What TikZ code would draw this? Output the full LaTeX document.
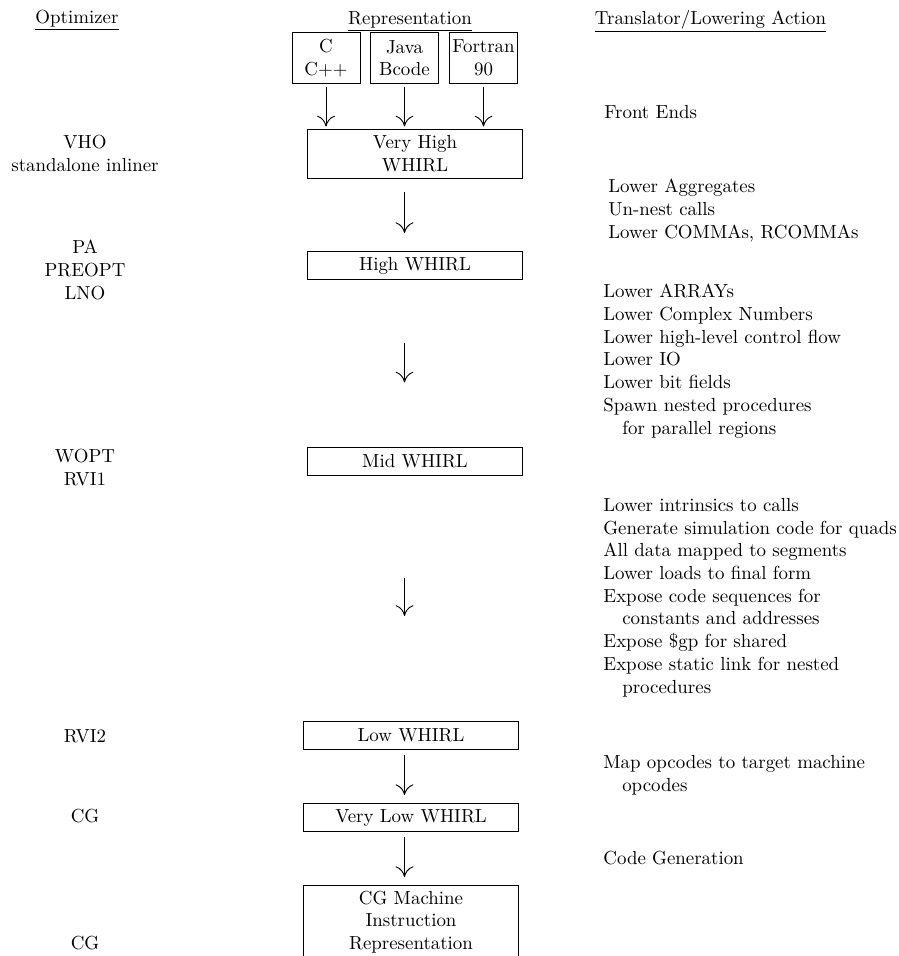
\documentclass[tikz,border=0pt]{standalone}
\usepackage{amsmath, amssymb}
\usepackage{tikz}
\usetikzlibrary{arrows.meta, calc}

\begin{document}
\begin{tikzpicture}[x=0.5291pt, y=-0.5291pt, >={To[length=5.7pt,width=9.5pt]},
  src/.style={draw, line width=0.5pt, align=center, minimum width=36pt, minimum height=26.5pt, inner sep=1pt},
  ir/.style={draw, line width=0.5pt, align=center, minimum width=113.8pt, minimum height=14.8pt, inner sep=1pt},
  opt/.style={align=center, anchor=base, inner sep=0pt},
  act/.style={align=left, anchor=base west, inner sep=0pt},
  flow/.style={->, line width=0.5pt}]

  \clip (0,0) rectangle (898,956);

  % Column headings
  \node[anchor=base] (hopt) at (77,23) {\underline{Optimizer}};
  \node[anchor=base] (hrep) at (410,24) {\underline{Representation}};
  \node[anchor=base] (hact) at (710.5,24) {\underline{Translator/Lowering Action}};

  % Front end sources
  \node[src] (c) at (326,58) {C\\C++};
  \node[src] (java) at (404.5,58) {Java\\Bcode};
  \node[src] (fortran) at (483.5,58) {Fortran\\90};

  % WHIRL levels
  \node[ir, minimum height=25.9pt] (vh) at (415,153.5) {Very High\\WHIRL};
  \node[ir] (hi) at (415,265.5) {High WHIRL};
  \node[ir] (mid) at (415,461) {Mid WHIRL};
  \node[ir] (low) at (411,735.5) {Low WHIRL};
  \node[ir] (vlow) at (411,817.5) {Very Low WHIRL};
  \node[ir, anchor=north, minimum height=38.5pt] (cgm) at (411,885) {CG Machine\\Instruction\\Representation};

  % Arrows
  \foreach \s in {c, java, fortran}
    \draw[flow, shorten <=2.1pt, shorten >=1.1pt] (\s.south) -- (\s.south |- vh.north);
  \draw[flow, shorten <=7.4pt, shorten >=9.5pt] (vh.south -| java) -- (hi.north -| java);
  \draw[flow, shorten <=33.3pt, shorten >=33.9pt] (hi.south -| java) -- (mid.north -| java);
  \draw[flow, shorten <=54.5pt, shorten >=55.6pt] (mid.south -| java) -- (low.north -| java);
  \draw[flow, shorten <=2.6pt, shorten >=4.2pt] (low.south -| java) -- (vlow.north -| java);
  \draw[flow, shorten <=2.6pt, shorten >=4.2pt] (vlow.south -| java) -- (cgm.north -| java);

  % Optimizers (anchored at the last line)
  \node[opt] (vho) at (85,171) {VHO\\standalone inliner};
  \node[opt] (pa) at (85,299) {PA\\PREOPT\\LNO};
  \node[opt] (wopt) at (85,485) {WOPT\\RVI1};
  \node[opt] (rvi2) at (85,742) {RVI2};
  \node[opt] (cga) at (85,822) {CG};
  \node[opt] (cgb) at (85,949) {CG};

  % Lowering actions (anchored at the last line)
  \node[act] (fe) at (604,118) {Front Ends};
  \node[act] (agg) at (608,238) {Lower Aggregates\\Un-nest calls\\Lower COMMAs, RCOMMAs};
  \node[act] (arr) at (603,434) {Lower ARRAYs\\Lower Complex Numbers\\Lower high-level control flow\\Lower IO\\Lower bit fields\\Spawn nested procedures\\\quad for parallel regions};
  \node[act] (intr) at (603,693) {Lower intrinsics to calls\\Generate simulation code for quads\\All data mapped to segments\\Lower loads to final form\\Expose code sequences for\\\quad constants and addresses\\Expose \$gp for shared\\Expose static link for nested\\\quad procedures};
  \node[act] (map) at (603,791) {Map opcodes to target machine\\\quad opcodes};
  \node[act] (cgen) at (603,864) {Code Generation};
\end{tikzpicture}
\end{document}
